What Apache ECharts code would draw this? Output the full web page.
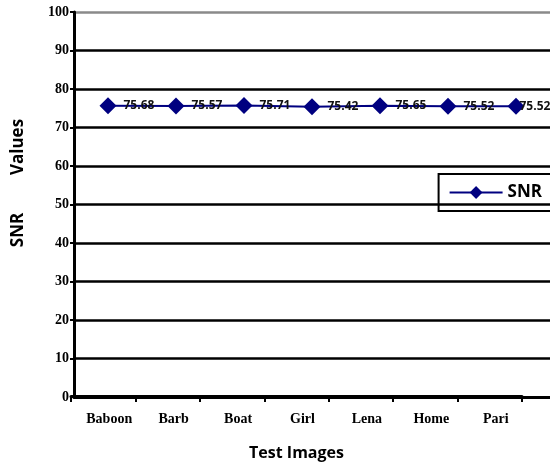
<!DOCTYPE html>
<html><head><meta charset="utf-8">
<script src="https://cdn.jsdelivr.net/npm/echarts@6/dist/echarts.min.js"></script>
<style>html,body{margin:0;padding:0;background:#fff}#c{width:550px;height:466px}</style>
</head><body><div id="c"></div>
<script>
var categories = ['Baboon','Barb','Boat','Girl','Lena','Home','Pari'];
var snrValues = [75.68, 75.57, 75.71, 75.42, 75.65, 75.52, 75.52];
var yTicks = [0,10,20,30,40,50,60,70,80,90,100];

var chart = echarts.init(document.getElementById('c'));
var gridColors = yTicks.map(function(v){ return v === 100 ? '#8a8a8a' : '#000'; });
var titleFont = {fontFamily: 'Open Sans', fontWeight: 'bold', fontSize: 17, fill: '#000'};
var seriesData = snrValues.map(function(v, i){
  return i === snrValues.length - 1 ? {value: v, label: {offset: [-12, 0]}} : v;
});
chart.setOption({
  animation: false,
  grid: [
    {left: 74, right: 0, top: 12, bottom: 69},
    {left: 71, right: 28, top: 12, bottom: 69}
  ],
  graphic: [
    {type: 'text', x: 18, y: 147, rotation: Math.PI / 2,
      style: Object.assign({text: 'Values', textAlign: 'center', textVerticalAlign: 'middle'}, titleFont)},
    {type: 'text', x: 18, y: 230, rotation: Math.PI / 2,
      style: Object.assign({text: 'SNR', textAlign: 'center', textVerticalAlign: 'middle'}, titleFont)}
  ],
  legend: {
    data: ['SNR'], right: -2, top: 174,
    borderColor: '#000', borderWidth: 2, padding: [10, 10, 10, 10],
    itemWidth: 53, itemHeight: 16,
    textStyle: {fontFamily: 'Open Sans', fontWeight: 'bold', fontSize: 17, color: '#000'}
  },
  xAxis: [{
    type: 'category', data: categories, boundaryGap: true, gridIndex: 0,
    axisLine: {lineStyle: {color: '#000', width: 3}},
    axisTick: {show: false},
    axisLabel: {show: false}
  }, {
    type: 'category', data: categories, boundaryGap: true, gridIndex: 1,
    name: 'Test Images', nameLocation: 'middle', nameGap: 49,
    nameTextStyle: {fontFamily: 'Open Sans', fontWeight: 'bold', fontSize: 16, color: '#000'},
    axisLine: {show: true, lineStyle: {color: '#000', width: 3}},
    axisTick: {show: true, length: 6, lineStyle: {color: '#000', width: 2}},
    axisLabel: {fontFamily: 'Liberation Serif', fontWeight: 'bold', fontSize: 14, color: '#000', margin: 16,
      padding: [0, 0, 0, 12]},
    splitLine: {show: false}
  }],
  yAxis: [{
    type: 'value', min: 0, max: 100, interval: 10, gridIndex: 0,
    axisLine: {show: true, lineStyle: {color: '#000', width: 3}},
    axisTick: {show: true, length: 4, lineStyle: {color: '#000', width: 2}},
    axisLabel: {fontFamily: 'Liberation Serif', fontWeight: 'bold', fontSize: 14, color: '#000', margin: 5},
    splitLine: {show: true, lineStyle: {color: gridColors, width: 2.5}}
  }, {
    type: 'value', min: 0, max: 100, gridIndex: 1, show: false
  }],
  series: [{
    name: 'SNR', type: 'line', data: seriesData, xAxisIndex: 0, yAxisIndex: 0,
    symbol: 'diamond', symbolSize: 17,
    itemStyle: {color: '#000080'},
    lineStyle: {color: '#000080', width: 2},
    label: {show: true, position: 'right', distance: 7,
      fontFamily: 'Open Sans', fontWeight: 'bold', fontSize: 12, color: '#111'}
  }]
});
</script></body></html>
